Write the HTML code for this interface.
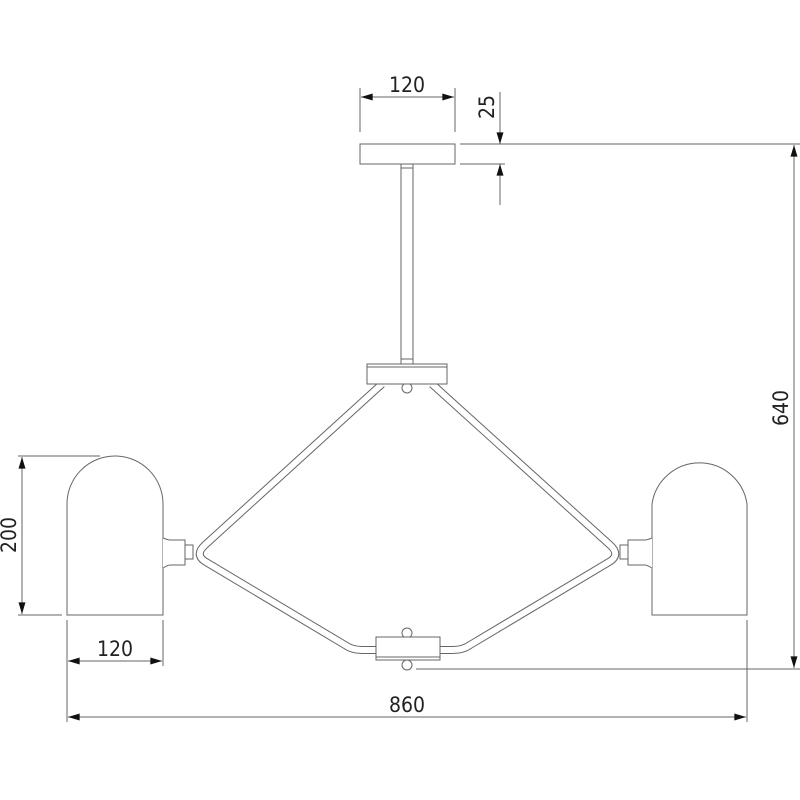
<!DOCTYPE html>
<html><head><meta charset="utf-8"><style>
html,body{margin:0;padding:0;background:#fff;}
svg{display:block;}
text{font-family:"Liberation Sans Narrow","DejaVu Sans Condensed","Liberation Sans",sans-serif;font-size:21px;fill:#222;}
</style></head><body>
<svg width="800" height="800" viewBox="0 0 800 800" xmlns="http://www.w3.org/2000/svg">
<defs>
<marker id="a" viewBox="0 0 10 6" refX="10" refY="3" markerWidth="14" markerHeight="7" orient="auto-start-reverse" markerUnits="userSpaceOnUse"><path d="M0,0 L10,3 L0,6 z" fill="#111"/></marker>
</defs>
<g fill="none" stroke="#666" stroke-width="1">
<line x1="360" y1="88" x2="360" y2="132"/><line x1="455" y1="88" x2="455" y2="132"/>
<line x1="361" y1="97" x2="454" y2="97" marker-start="url(#a)" marker-end="url(#a)"/>
<rect x="360" y="144" width="95" height="20" fill="#fff"/>
<rect x="401" y="164" width="12" height="196" fill="#fff"/>
<line x1="401" y1="168" x2="413" y2="168"/>
<line x1="460" y1="144" x2="800" y2="144"/><line x1="460" y1="164" x2="505" y2="164"/>
<line x1="500" y1="92" x2="500" y2="144" marker-end="url(#a)"/>
<line x1="500" y1="205" x2="500" y2="164" marker-end="url(#a)"/>
<g stroke="#666" stroke-width="8" stroke-linejoin="round">
<path d="M382,384 L205,545 Q194,555 206,562 L345,645 Q352,650 362,650 L380,650"/>
<path d="M432,384 L610,545 Q621,555 609,562 L470,645 Q463,650 453,650 L436,650"/>
</g>
<g stroke="#fff" stroke-width="6" stroke-linejoin="round">
<path d="M382,384 L205,545 Q194,555 206,562 L345,645 Q352,650 362,650 L380,650"/>
<path d="M432,384 L610,545 Q621,555 609,562 L470,645 Q463,650 453,650 L436,650"/>
</g>
<circle cx="407" cy="388" r="5" fill="#fff"/>
<rect x="367" y="364" width="80" height="20" fill="#fff"/>
<line x1="367" y1="367" x2="447" y2="367"/>
<rect x="401" y="359" width="12" height="5" fill="#fff"/>
<circle cx="407" cy="633" r="5" fill="#fff"/>
<circle cx="407" cy="665" r="5" fill="#fff"/>
<rect x="376" y="657" width="64" height="3" fill="#fff"/>
<rect x="376" y="637" width="64" height="20" fill="#fff"/>
<path d="M67,615 L67,504 A48,48 0 0 1 163,504 L163,615 Z" fill="#fff"/>
<path d="M163,538 Q168,540 170,540 L185,540 L185,565 L170,565 Q168,565 163,568" fill="#fff"/>
<rect x="185" y="545" width="8" height="14" fill="#fff"/>
<path d="M652,615 L652,504 A48,48 0 0 1 747,504 L747,615 Z" fill="#fff"/>
<path d="M652,538 Q647,540 645,540 L628,540 L628,565 L645,565 Q647,565 652,568" fill="#fff"/>
<rect x="620" y="545" width="8" height="14" fill="#fff"/>
<line x1="18" y1="456" x2="100" y2="456"/><line x1="18" y1="615" x2="62" y2="615"/>
<line x1="22" y1="457" x2="22" y2="614" marker-start="url(#a)" marker-end="url(#a)"/>
<line x1="67" y1="620" x2="67" y2="722"/><line x1="163" y1="620" x2="163" y2="666"/>
<line x1="68" y1="661" x2="162" y2="661" marker-start="url(#a)" marker-end="url(#a)"/>
<line x1="747" y1="620" x2="747" y2="722"/>
<line x1="68" y1="717" x2="746" y2="717" marker-start="url(#a)" marker-end="url(#a)"/>
<line x1="416" y1="669" x2="800" y2="669"/>
<line x1="794" y1="145" x2="794" y2="668" marker-start="url(#a)" marker-end="url(#a)"/>
</g>
<text x="407" y="92" text-anchor="middle">120</text>
<text transform="translate(494,107) rotate(-90)" text-anchor="middle">25</text>
<text transform="translate(16,535) rotate(-90)" text-anchor="middle">200</text>
<text x="115" y="656" text-anchor="middle">120</text>
<text x="407" y="712" text-anchor="middle">860</text>
<text transform="translate(788,408) rotate(-90)" text-anchor="middle">640</text>
</svg>
</body></html>
